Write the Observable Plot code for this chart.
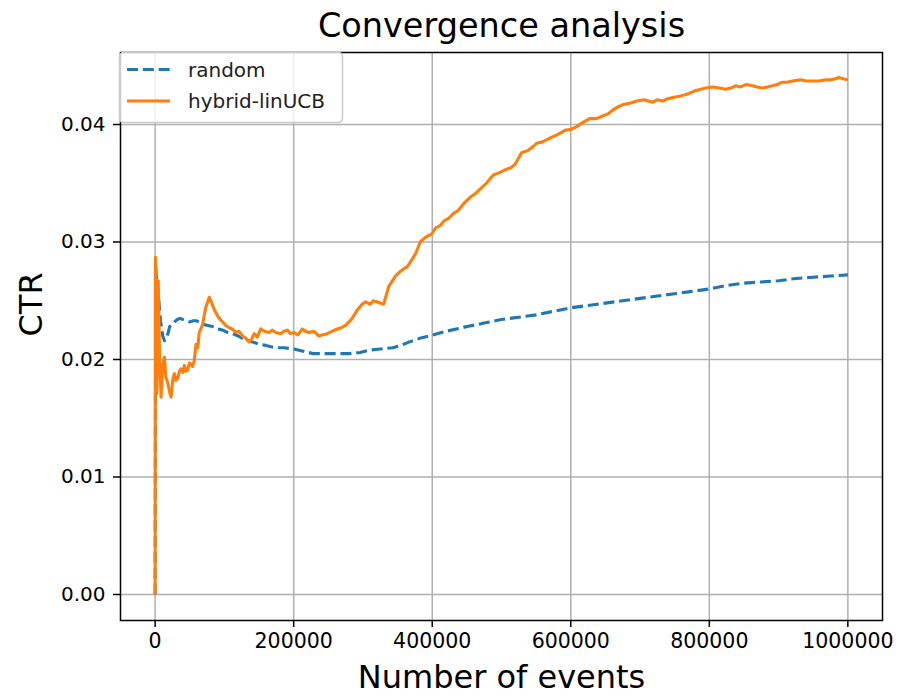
<!DOCTYPE html>
<html>
<head>
<meta charset="utf-8">
<script src="https://cdn.jsdelivr.net/npm/d3@7"></script>
<script src="https://cdn.jsdelivr.net/npm/@observablehq/plot@0.6"></script>
<style>
  html, body { margin: 0; padding: 0; background: white; }
  #chart { width: 899px; height: 699px; }
</style>
</head>
<body>
<div id="chart"></div>
<script>
const titleText = "Convergence analysis";
const xLabelText = "Number of events";
const yLabelText = "CTR";
const seriesNames = ["random", "hybrid-linUCB"];
const seriesColors = ["#1f77b4", "#ff7f0e"];
const xTicks = [0, 200000, 400000, 600000, 800000, 1000000];
const yTicks = [0, 0.01, 0.02, 0.03, 0.04];

const randomEvents = [0, 800, 2500, 5000, 8000, 11000, 13400, 16000, 18500, 21000, 23000, 26000, 28000, 32000, 36000, 40000, 45000, 50000, 55000, 60000, 68600, 76000, 83000, 90000, 97400, 105000, 111800, 120000, 126200, 134000, 140500, 150000, 159700, 174100, 186000, 200000, 214000, 228000, 245000, 262000, 280000, 296000, 310000, 325000, 343000, 355000, 367000, 382000, 396000, 420000, 450000, 475000, 500000, 525000, 550000, 575000, 600000, 625000, 650000, 675000, 700000, 725000, 750000, 775000, 800000, 825000, 850000, 875000, 900000, 925000, 950000, 975000, 1000000];
const randomCTR = [0, 0.0280, 0.0262, 0.0252, 0.0232, 0.0220, 0.0216, 0.0218, 0.0222, 0.0228, 0.0229, 0.0231, 0.0232, 0.0234, 0.0235, 0.0234, 0.0233, 0.0232, 0.0233, 0.0233, 0.0230, 0.0229, 0.0228, 0.0226, 0.0225, 0.0223, 0.0222, 0.0220, 0.0218, 0.0216, 0.0215, 0.0213, 0.0212, 0.0210, 0.0210, 0.0209, 0.0207, 0.0205, 0.0205, 0.0205, 0.0205, 0.0206, 0.0208, 0.0209, 0.0210, 0.0212, 0.0215, 0.0218, 0.0220, 0.0224, 0.0228, 0.0231, 0.0234, 0.0236, 0.0238, 0.0241, 0.0244, 0.0246, 0.0248, 0.0250, 0.0252, 0.0254, 0.0256, 0.0258, 0.0260, 0.0263, 0.0265, 0.0266, 0.0267, 0.0269, 0.0270, 0.0271, 0.0272];

const hybridEvents = [0, 400, 1500, 2500, 4500, 6500, 8600, 11000, 13400, 15500, 18300, 21000, 23000, 25500, 27800, 30000, 32700, 35000, 37400, 40000, 42200, 44500, 47000, 49500, 51800, 54000, 56500, 59000, 61500, 63700, 66000, 68600, 71000, 73400, 76000, 78100, 80500, 83000, 86500, 90200, 94000, 97400, 102000, 106900, 111500, 116500, 121000, 126200, 131000, 135700, 139000, 142900, 147500, 152500, 158000, 164500, 169000, 174100, 181300, 186000, 190900, 195500, 200400, 206000, 212500, 217000, 222000, 229200, 236400, 242000, 248500, 255000, 262900, 268500, 274800, 280000, 284500, 291700, 298800, 303600, 310800, 315000, 320400, 329900, 337100, 341500, 346800, 352000, 358700, 364000, 370800, 376000, 382700, 390000, 399600, 405000, 411500, 417000, 423400, 430000, 437800, 446000, 454700, 462000, 469100, 478000, 488200, 497000, 507500, 513000, 519400, 529000, 538500, 545000, 550600, 558000, 565000, 572000, 579400, 586000, 591400, 601000, 608000, 615400, 627300, 637000, 645000, 653600, 660000, 668000, 676000, 684900, 695000, 706400, 712000, 718400, 725000, 732800, 740000, 747200, 756800, 763000, 768700, 780800, 788000, 795200, 805000, 814300, 824000, 831000, 838400, 845000, 852800, 862300, 869000, 876700, 884000, 891100, 898000, 905400, 912000, 919800, 931900, 940000, 946300, 958200, 967900, 975000, 982200, 987000, 993000, 1000000];
const hybridCTR = [0, 0.0287, 0.0250, 0.0171, 0.0267, 0.0200, 0.0168, 0.0195, 0.0202, 0.0185, 0.0180, 0.0172, 0.0168, 0.0183, 0.0188, 0.0182, 0.0184, 0.0190, 0.0192, 0.0189, 0.0195, 0.0190, 0.0191, 0.0197, 0.0196, 0.0194, 0.0199, 0.0213, 0.0210, 0.0223, 0.0226, 0.0230, 0.0238, 0.0245, 0.0249, 0.0253, 0.0250, 0.0246, 0.0241, 0.0237, 0.0234, 0.0232, 0.0229, 0.0227, 0.0226, 0.0223, 0.0224, 0.0220, 0.0218, 0.0215, 0.0217, 0.0222, 0.0219, 0.0226, 0.0224, 0.0223, 0.0225, 0.0223, 0.0222, 0.0224, 0.0225, 0.0222, 0.0223, 0.0221, 0.0226, 0.0224, 0.0223, 0.0224, 0.0220, 0.0221, 0.0222, 0.0224, 0.0226, 0.0227, 0.0229, 0.0232, 0.0235, 0.0242, 0.0247, 0.0249, 0.0247, 0.0250, 0.0249, 0.0247, 0.0262, 0.0266, 0.0271, 0.0274, 0.0277, 0.0279, 0.0285, 0.0290, 0.0300, 0.0304, 0.0307, 0.0312, 0.0314, 0.0318, 0.0320, 0.0324, 0.0327, 0.0333, 0.0338, 0.0341, 0.0345, 0.0350, 0.0357, 0.0359, 0.0362, 0.0363, 0.0366, 0.0376, 0.0378, 0.0381, 0.0384, 0.0385, 0.0387, 0.0389, 0.0391, 0.0393, 0.0395, 0.0396, 0.0398, 0.0401, 0.0405, 0.0405, 0.0407, 0.0409, 0.0412, 0.0415, 0.0417, 0.0418, 0.0420, 0.0421, 0.0420, 0.0419, 0.0421, 0.0420, 0.0422, 0.0423, 0.0424, 0.0425, 0.0426, 0.0429, 0.0430, 0.0431, 0.0432, 0.0431, 0.0430, 0.0431, 0.0433, 0.0432, 0.0434, 0.0433, 0.0432, 0.0431, 0.0432, 0.0433, 0.0434, 0.0436, 0.0436, 0.0437, 0.0438, 0.0437, 0.0437, 0.0437, 0.0438, 0.0438, 0.0439, 0.0440, 0.0439, 0.0438];

const randomData = randomEvents.map((x, i) => ({x, y: randomCTR[i]}));
const hybridData = hybridEvents.map((x, i) => ({x, y: hybridCTR[i]}));

const dash = "11,4.8";
const font = "DejaVu Sans";
const lw = 3.1;

const chart = Plot.plot({
  width: 899,
  height: 699,
  marginLeft: 120,
  marginRight: 17,
  marginTop: 52,
  marginBottom: 79,
  style: {fontFamily: font, background: "white", color: "black", overflow: "visible"},
  x: {domain: [-50000, 1050000]},
  y: {domain: [-0.002213, 0.046128]},
  marks: [
    Plot.gridX(xTicks, {stroke: "#b0b0b0", strokeOpacity: 1, strokeWidth: 1.5}),
    Plot.gridY(yTicks, {stroke: "#b0b0b0", strokeOpacity: 1, strokeWidth: 1.5}),
    Plot.line(randomData, {x: "x", y: "y", stroke: seriesColors[0], strokeWidth: lw, strokeDasharray: dash, strokeLinecap: "butt", strokeLinejoin: "round"}),
    Plot.line(hybridData, {x: "x", y: "y", stroke: seriesColors[1], strokeWidth: lw, strokeLinecap: "butt", strokeLinejoin: "round"}),
    Plot.frame({stroke: "black", strokeWidth: 1.5}),
    Plot.axisX(xTicks, {tickSize: 7, tickPadding: 6, tickFormat: d => String(d), fontSize: 20.5, label: null, strokeWidth: 1.5}),
    Plot.axisY(yTicks, {tickSize: 7, tickPadding: 8, tickFormat: d => d.toFixed(2), fontSize: 20, label: null, strokeWidth: 1.5}),
    Plot.text([titleText], {text: d => d, frameAnchor: "top", dy: -16, lineAnchor: "bottom", fontSize: 33.5, fill: "black"}),
    Plot.text([xLabelText], {text: d => d, frameAnchor: "bottom", dy: 67, lineAnchor: "bottom", fontSize: 32, fill: "black"}),
    Plot.text([yLabelText], {text: d => d, frameAnchor: "left", dx: -79, rotate: -90, lineAnchor: "bottom", fontSize: 32, fill: "black"})
  ]
});

document.getElementById("chart").appendChild(chart);

// Legend (upper left, inside the axes)
const svg = d3.select(chart);
const lg = svg.append("g")
  .attr("font-family", font)
  .attr("font-size", 20)
  .attr("text-anchor", "start");
lg.append("rect")
  .attr("x", 119.5).attr("y", 52.5).attr("width", 223).attr("height", 70)
  .attr("rx", 4).attr("fill", "white").attr("fill-opacity", 0.8)
  .attr("stroke", "#cccccc").attr("stroke-width", 1.5);
const rows = [69.5, 101];
seriesNames.forEach((name, i) => {
  lg.append("line")
    .attr("x1", 127).attr("x2", 170).attr("y1", rows[i]).attr("y2", rows[i])
    .attr("stroke", seriesColors[i]).attr("stroke-width", lw)
    .attr("stroke-dasharray", i === 0 ? dash : null);
  lg.append("text")
    .attr("x", 188).attr("y", rows[i] + 7)
    .attr("text-anchor", "start")
    .attr("fill", "#222").text(name);
});
</script>
</body>
</html>
